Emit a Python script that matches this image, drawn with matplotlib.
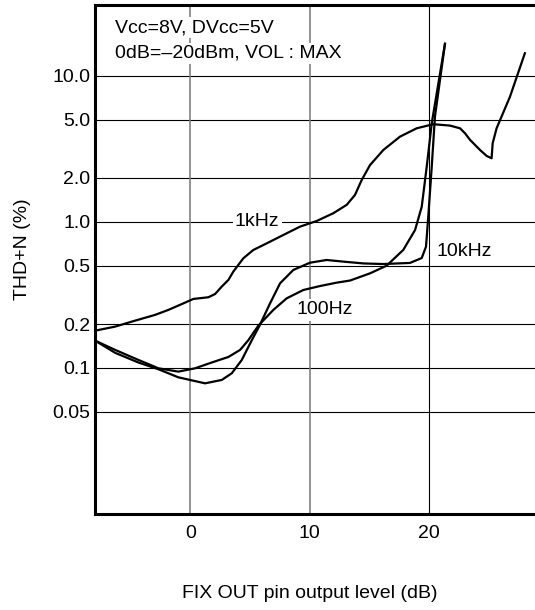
import matplotlib
matplotlib.use("Agg")
import matplotlib.pyplot as plt
from matplotlib.ticker import NullLocator, FixedLocator, FixedFormatter

plt.rcParams["font.family"] = ["Liberation Sans", "DejaVu Sans"]

# ---- data (x: dB, y: THD+N %) ----
khz1_x = [-8.0, -6.31, -4.63, -2.96, -1.84, -0.72, 0.25, 1.51, 2.07, 2.63,
          3.19, 3.60, 4.44, 5.28, 6.12, 8.36, 9.20, 10.60, 11.99, 13.11, 13.80,
          14.37, 15.06, 16.18, 17.58, 18.98, 20.37, 21.77, 22.61, 23.03, 23.45,
          24.29, 24.85, 25.26, 25.35, 25.68, 26.80, 28.05]
khz1_y = [0.180, 0.192, 0.211, 0.231, 0.250, 0.274, 0.297, 0.305, 0.321, 0.361,
          0.401, 0.457, 0.564, 0.643, 0.695, 0.859, 0.929, 1.016, 1.148, 1.31,
          1.53, 1.94, 2.45, 3.11, 3.84, 4.38, 4.67, 4.57, 4.38, 4.05, 3.65,
          3.11, 2.83, 2.73, 3.46, 4.38, 7.2, 14.3]

khz10_x = [-8.0, -6.31, -4.36, -2.68, -1.01, 1.23, 2.63, 3.47, 4.31, 5.15, 5.80,
           6.68, 7.52, 8.63, 10.03, 11.43, 12.82, 14.50, 16.15, 18.41, 19.40,
           19.76, 19.95, 20.24, 20.51, 21.35]
khz10_y = [0.154, 0.127, 0.109, 0.098, 0.0863, 0.0785, 0.0828, 0.092, 0.1135,
           0.155, 0.195, 0.277, 0.380, 0.469, 0.526, 0.549, 0.535, 0.520, 0.515,
           0.524, 0.566, 0.678, 1.09, 2.39, 5.27, 16.6]

hz100_x = [-8.0, -6.31, -4.36, -2.68, -1.01, 0.39, 1.79, 3.19, 4.17, 4.86, 5.70,
           6.96, 8.08, 9.47, 10.87, 12.27, 13.39, 15.07, 16.46, 17.85, 18.84,
           19.40, 19.82, 20.24, 21.35]
hz100_y = [0.154, 0.133, 0.1135, 0.0995, 0.0944, 0.0995, 0.109, 0.119, 0.133,
           0.155, 0.195, 0.250, 0.300, 0.342, 0.364, 0.384, 0.397, 0.445, 0.502,
           0.643, 0.88, 1.27, 2.39, 4.74, 16.6]

y_ticks = [0.05, 0.1, 0.2, 0.5, 1.0, 2.0, 5.0, 10.0]
y_tick_labels = ["0.05", "0.1", "0.2", "0.5", "1.0", "2.0", "5.0", "10.0"]
x_ticks = [0, 10, 20]
x_tick_labels = ["0", "10", "20"]

fig = plt.figure(figsize=(5.35, 6.10), dpi=100)
ax = fig.add_axes([95 / 535, 1 - 514 / 610, 440 / 535, 509 / 610])

ax.set_yscale("log")
ax.set_xlim(-8.0, 28.9)
ax.set_ylim(0.01, 30.6)

# grid
for yv in y_ticks:
    ax.axhline(yv, color="black", lw=0.8, zorder=1)
for xv, col in zip(x_ticks, ["#777777", "#777777", "black"]):
    ax.axvline(xv, color=col, lw=1.1 if col != "black" else 0.8, zorder=1)

# curves
for xs, ys in [(khz1_x, khz1_y), (khz10_x, khz10_y), (hz100_x, hz100_y)]:
    ax.plot(xs, ys, color="black", lw=1.6, zorder=3, solid_joinstyle="round")

ax.yaxis.set_major_locator(FixedLocator(y_ticks))
ax.yaxis.set_major_formatter(FixedFormatter(y_tick_labels))
ax.yaxis.set_minor_locator(NullLocator())
ax.set_xticks(x_ticks)
ax.set_xticklabels(x_tick_labels)
ax.tick_params(axis="both", length=0, labelsize=14)
ax.tick_params(axis="y", pad=3.5)
ax.tick_params(axis="x", pad=8)

for side in ["left", "bottom", "top"]:
    ax.spines[side].set_linewidth(2.2)
ax.spines["right"].set_visible(False)

box = dict(facecolor="white", edgecolor="none", pad=1.5)
ax.text(-6.3, 10 ** 1.33, "Vcc=8V, DVcc=5V", fontsize=14, ha="left",
        va="center", bbox=box, zorder=2)
ax.text(-6.3, 10 ** 1.155, "0dB=\u201320dBm, VOL : MAX", fontsize=14,
        ha="left", va="center", bbox=box, zorder=2)
ax.text(5.6, 1.0, "1kHz", fontsize=14, ha="center", va="center", bbox=box,
        zorder=2)
ax.text(20.68, 0.63, "10kHz", fontsize=14, ha="left", va="center", zorder=2)
ax.text(8.9, 0.25, "100Hz", fontsize=14, ha="left", va="center", bbox=box,
        zorder=2)

fig.text(310 / 535, 1 - 593 / 610, "FIX OUT pin output level (dB)",
         fontsize=14, ha="center", va="center")
fig.text(23 / 535, 1 - 249 / 610, "THD+N (%)", fontsize=14, ha="center",
         va="center", rotation=90)

fig.savefig("out.png", dpi=100)
